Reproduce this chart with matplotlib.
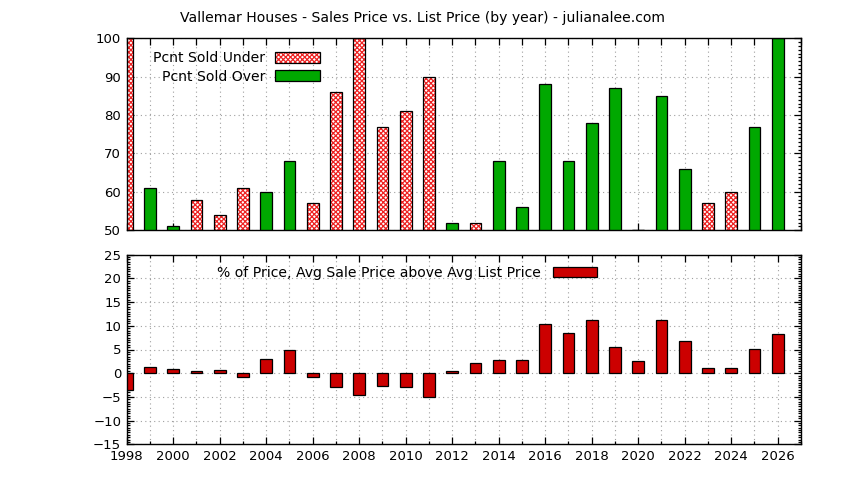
import matplotlib
matplotlib.use("Agg")
import matplotlib.pyplot as plt
from matplotlib.ticker import MultipleLocator
from matplotlib.patches import Patch
from matplotlib.legend_handler import HandlerTuple
import numpy as np

years = list(range(1998, 2027))
pct_over = [0, 61, 51, 42, 46, 39, 60, 68, 43, 14, 0, 23, 19, 10, 52, 48,
            68, 56, 88, 68, 78, 87, 50, 85, 66, 43, 40, 77, 100]
pct_under = [100, 39, 49, 58, 54, 61, 40, 32, 57, 86, 100, 77, 81, 90, 48, 52,
             32, 44, 12, 32, 22, 13, 50, 15, 34, 57, 60, 23, 0]
avg_above = [-3.5, 1.25, 0.8, 0.5, 0.6, -0.7, 3.1, 5.0, -0.9, -3.0, -4.65, -2.6,
             -3.0, -5.1, 0.5, 2.15, 2.7, 2.7, 10.4, 8.5, 11.25, 5.6, 2.5, 11.25,
             6.7, 1.05, 1.05, 5.2, 8.3]

title = "Vallemar Houses - Sales Price vs. List Price (by year) - julianalee.com"
label_under = "Pcnt Sold Under"
label_over = "Pcnt Sold Over"
label_avg = "% of Price, Avg Sale Price above Avg List Price"

GREEN = "#00a800"
RED = "#cc0000"
PINK_HATCH = "#ee2222"
FS_TICK = 9.5
FS_TEXT = 10.1
LW = 0.9

plt.rcParams["font.family"] = ["DejaVu Sans"]
plt.rcParams["hatch.linewidth"] = 0.9

fig = plt.figure(figsize=(8.44, 4.8), dpi=100)
L = 126.7 / 844
W = (801 - 126.7) / 844
ax1 = fig.add_axes([L, 1 - 230.3 / 480, W, (230.3 - 38.3) / 480])
ax2 = fig.add_axes([L, 1 - 444.3 / 480, W, (444.3 - 254.7) / 480])

x = np.array(years, dtype=float)
bw = 0.5

# Top panel
ax1.bar(x, pct_under, width=bw, color="white", edgecolor=PINK_HATCH,
        hatch="xxxxxxx", linewidth=0, zorder=2)
ax1.bar(x, pct_under, width=bw, fill=False, edgecolor="black", linewidth=LW, zorder=3)
ax1.bar(x, pct_over, width=bw, color=GREEN, edgecolor="black", linewidth=LW, zorder=3)
ax1.set_ylim(50, 100)
ax1.set_xlim(1998, 2027)
ax1.yaxis.set_major_locator(MultipleLocator(10))
ax1.yaxis.set_minor_locator(MultipleLocator(1))
ax1.xaxis.set_major_locator(MultipleLocator(1))
ax1.tick_params(axis="x", which="both", labelbottom=False)

# Bottom panel
ax2.bar(x, avg_above, width=bw, color=RED, edgecolor="black", linewidth=LW, zorder=3)
ax2.set_ylim(-15, 25)
ax2.set_xlim(1998, 2027)
ax2.yaxis.set_major_locator(MultipleLocator(5))
ax2.yaxis.set_minor_locator(MultipleLocator(0.5))
ax2.xaxis.set_major_locator(MultipleLocator(2))
ax2.xaxis.set_minor_locator(MultipleLocator(1))

for ax in (ax1, ax2):
    for s in ax.spines.values():
        s.set_linewidth(1.0)
        s.set_zorder(5)
    ax.tick_params(which="both", direction="in", top=True, right=True,
                   labelsize=FS_TICK, width=0.9, pad=4)
    ax.tick_params(which="major", length=5)
    ax.tick_params(which="minor", length=2.5)
    ax.grid(True, which="major", color="#a0a0a0", linestyle=(0, (1, 3)), linewidth=0.8, zorder=0)
    ax.set_axisbelow(True)
ax2.grid(True, which="minor", axis="x", color="#a0a0a0", linestyle=(0, (1, 3)), linewidth=0.8, zorder=0)

# Legends
h_under_fill = Patch(facecolor="white", edgecolor=PINK_HATCH, hatch="xxxxxxx", linewidth=0)
h_under_edge = Patch(fill=False, edgecolor="black", linewidth=LW)
h_over = Patch(facecolor=GREEN, edgecolor="black", linewidth=LW)
ax1.legend([(h_under_fill, h_under_edge), h_over], [label_under, label_over],
           handler_map={tuple: HandlerTuple(ndivide=1, pad=0)},
           loc="upper left", bbox_to_anchor=(0.023, 0.99), markerfirst=False,
           frameon=False, fontsize=FS_TEXT, handlelength=3.2, handleheight=0.8,
           labelspacing=0.3, handletextpad=0.7, borderpad=0.3)

h_avg = Patch(facecolor=RED, edgecolor="black", linewidth=LW)
ax2.legend([h_avg], [label_avg], loc="upper left", bbox_to_anchor=(0.118, 1.0),
           markerfirst=False, frameon=False, fontsize=FS_TEXT, handlelength=3.2,
           handleheight=0.8, handletextpad=0.8, borderpad=0.3)

fig.text(0.5, 1 - 18 / 480, title, ha="center", va="center", fontsize=FS_TEXT)

fig.savefig("out.png", dpi=100)
